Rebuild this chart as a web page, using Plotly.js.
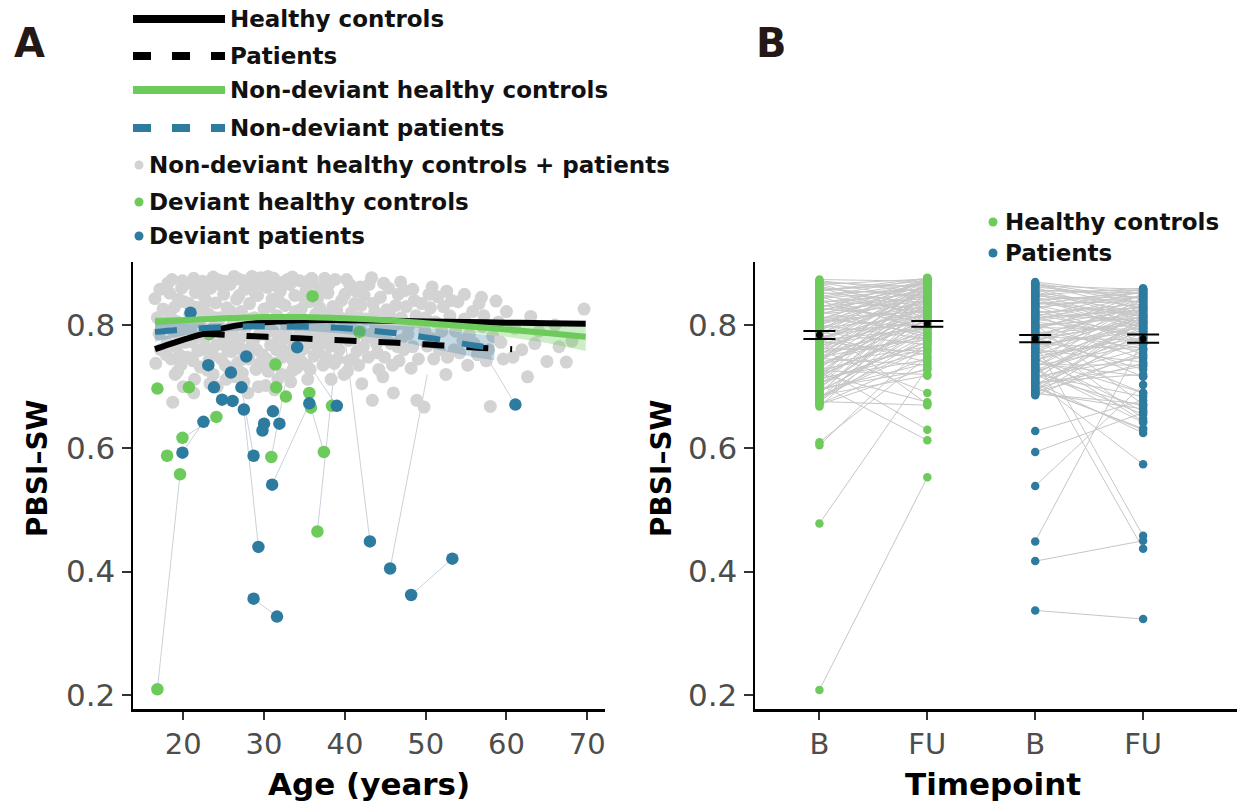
<!DOCTYPE html>
<html>
<head>
<meta charset="utf-8">
<script src="https://cdn.plot.ly/plotly-3.0.1.min.js"></script>
<style>html,body{margin:0;padding:0;background:#fff;}#chart{width:1239px;height:803px;}</style>
</head>
<body>
<div id="chart"></div>
<script>
// ---------- Panel A data ----------
const greyAge = [16.5,16.8,17.0,17.2,16.6,17.5,17.8,18.0,18.3,18.7,18.5,18.9,19.2,19.5,19.0,19.8,19.6,20.1,20.3,20.0,
  20.6,20.8,21.0,21.2,21.5,21.7,21.4,22.0,22.2,22.4,22.6,22.8,23.0,23.1,23.4,23.6,23.8,24.0,24.2,24.4,
  24.6,24.8,25.0,25.2,25.4,25.6,25.8,26.0,26.2,26.4,26.6,26.8,27.0,27.2,27.4,27.6,27.8,28.0,28.2,28.4,
  28.6,28.8,29.0,29.2,29.4,29.6,29.8,30.0,30.2,30.4,30.6,30.8,31.0,31.2,31.4,31.6,31.8,32.0,32.2,32.4,
  32.6,32.8,33.0,33.2,33.4,33.6,33.8,34.0,34.2,34.4,34.6,34.8,35.0,35.2,35.4,35.6,35.8,36.0,36.2,36.4,
  36.6,36.8,37.0,37.3,37.6,37.9,38.2,38.5,38.8,39.1,39.4,39.7,40.0,40.3,40.6,40.9,41.2,41.5,41.8,42.1,
  42.4,42.7,43.0,43.4,43.7,44.0,44.4,44.7,45.0,45.4,45.7,46.0,46.3,46.7,47.0,47.4,47.8,48.2,48.6,48.9,
  49.3,49.8,50.2,50.6,51.0,51.5,52.0,52.5,53.0,53.5,54.0,54.6,55.2,55.8,56.4,
  57.0,57.5,58.0,58.7,59.3,60.0,60.8,61.9,62.6,63.0,64.0,65.0,66.0,67.4,68.1,69.6,
  18.1,19.4,20.9,21.9,22.9,23.9,24.9,25.9,26.9,27.9,28.9,29.9,30.9,31.9,32.9,33.9,34.9,35.9,36.9,37.9,
  19.3,21.3,23.3,25.3,27.3,29.3,31.3,33.3,35.3,38.3,40.5,42.0,43.8,45.2,47.2,39.0,41.0,44.2,46.5,50.0];
const greyVal = [.843,.812,.786,.760,.738,.826,.801,.772,.852,.675,.745,.829,.806,.781,.720,.860,.751,.838,.795,.700,
  .868,.817,.773,.742,.853,.829,.712,.805,.760,.871,.846,.782,.727,.818,.860,.753,.797,.836,.700,.873,
  .812,.770,.850,.735,.828,.790,.866,.757,.805,.716,.842,.875,.778,.822,.745,.858,.797,.690,.835,.765,
  .870,.812,.728,.848,.785,.877,.752,.826,.702,.861,.800,.768,.842,.876,.738,.815,.782,.855,.720,.870,
  .832,.795,.758,.866,.812,.742,.848,.730,.780,.872,.826,.805,.762,.856,.712,.838,.789,.868,.750,.818,
  .842,.775,.860,.735,.805,.852,.766,.830,.874,.745,.812,.788,.850,.725,.866,.795,.835,.758,.812,.705,
  .848,.780,.866,.678,.822,.755,.845,.716,.800,.860,.770,.690,.832,.742,.812,.856,.785,.730,.840,.678,
  .805,.667,.766,.828,.745,.846,.790,.720,.815,.760,.838,.775,.735,.822,.752,
  .798,.742,.668,.839,.772,.822,.748,.760,.716,.814,.790,.741,.800,.740,.774,.826,
  .868,.842,.793,.858,.838,.812,.862,.822,.848,.866,.852,.805,.866,.838,.874,.822,.845,.876,.828,.818,
  .725,.690,.705,.712,.722,.700,.695,.708,.735,.712,.775,.832,.800,.825,.802,.766,.745,.728,.765,.812];
const greyAge2 = [17.3,17.9,18.4,18.8,19.1,19.7,20.2,20.5,20.7,21.1,21.6,21.8,22.1,22.3,22.7,23.2,23.5,23.7,24.1,24.3,
  24.7,25.1,25.5,25.7,26.1,26.3,26.7,26.9,27.1,27.5,27.7,28.1,28.3,28.7,29.1,29.5,29.7,30.1,30.3,30.5,
  30.7,31.1,31.5,31.7,32.1,32.3,32.7,33.1,33.5,33.7,34.1,34.3,34.7,35.1,35.5,35.7,36.1,36.3,36.7,37.1,
  37.4,37.7,38.0,38.4,38.7,39.0,39.3,39.6,39.9,40.2,40.5,40.8,41.1,41.4,41.7,42.0,42.3,42.6,42.9,43.2,
  43.5,43.9,44.2,44.6,44.9,45.3,45.6,45.9,46.2,46.6,46.9,47.3,47.6,48.0,48.4,48.8,49.1,49.5,49.9,50.4,
  50.8,51.2,51.7,52.2,52.7,53.2,53.7,54.2,54.8,55.4,56.0,56.6,57.2,57.8,58.3,59.0,59.6,61.0,63.5,66.5,
  17.1,18.6,19.9,21.3,22.1,23.7,25.1,26.3,27.5,28.5,29.5,30.5,31.5,33.5,35.5,37.5,38.0,40.2,41.9,43.3,
  44.8,46.9,48.4,50.8,52.6,54.8,56.9];
const greyVal2 = [.795,.752,.815,.790,.765,.735,.772,.748,.835,.803,.780,.758,.732,.822,.765,.744,.790,.720,.768,.808,
  .745,.782,.760,.728,.790,.773,.738,.800,.762,.708,.783,.745,.810,.775,.760,.738,.800,.785,.745,.725,
  .830,.790,.760,.712,.772,.748,.805,.780,.726,.765,.798,.752,.740,.782,.770,.728,.800,.782,.758,.790,
  .772,.748,.800,.782,.738,.825,.760,.840,.720,.805,.742,.820,.778,.855,.735,.790,.765,.810,.748,.785,
  .835,.770,.810,.785,.748,.790,.815,.735,.800,.850,.775,.760,.830,.800,.765,.815,.745,.835,.790,.850,
  .778,.805,.760,.830,.748,.840,.790,.755,.810,.785,.770,.835,.815,.760,.782,.805,.745,.795,.770,.765,
  .858,.874,.872,.876,.864,.878,.871,.879,.872,.879,.866,.879,.864,.878,.872,.876,.866,.874,.862,.877,
  .868,.870,.858,.862,.855,.850,.845];

const devHcAge = [36.0,16.8,20.7,24.1,19.9,18.0,30.9,37.4,31.4,31.5,32.7,35.6,35.8,38.4,41.8,23.2,19.6,36.6,16.8];
const devHcVal = [0.847,0.697,0.699,0.651,0.617,0.588,0.586,0.594,0.736,0.699,0.684,0.690,0.666,0.669,0.789,0.785,0.558,0.465,0.209];

const devPtAge = [20.9,34.1,23.1,27.8,25.9,23.8,27.2,24.8,26.1,27.5,31.1,22.5,30.0,31.9,29.8,35.6,39.0,61.1,19.9,28.7,31.0,29.3,43.1,45.6,53.3,48.2,28.7,31.6];
const devPtVal = [0.820,0.764,0.735,0.749,0.723,0.699,0.699,0.679,0.677,0.663,0.660,0.643,0.640,0.640,0.629,0.673,0.669,0.671,0.593,0.588,0.541,0.440,0.449,0.405,0.421,0.362,0.356,0.327];

// links between the two timepoints of deviant subjects
const linkAge1 = [16.8,28.7,48.2,45.6,43.1,29.3,31.0,36.6,61.1,19.9,28.7,30.9,37.4,19.9,20.9,34.1];
const linkVal1 = [0.209,0.356,0.362,0.405,0.449,0.440,0.541,0.465,0.671,0.593,0.588,0.586,0.594,0.617,0.820,0.764];
const linkAge2 = [19.6,31.6,53.3,50.2,40.0,27.5,35.6,39.0,57.0,22.5,27.2,33.0,35.8,24.1,22.5,39.0];
const linkVal2 = [0.558,0.327,0.421,0.720,0.780,0.663,0.673,0.766,0.760,0.643,0.699,0.730,0.666,0.651,0.760,0.669];

// fitted curves
const hcCurveAge = [16.5,19,22,25,28,32,36,40,45,50,55,60,65,69.8];
const hcCurveVal = [0.761,0.772,0.784,0.795,0.802,0.806,0.808,0.808,0.807,0.806,0.805,0.804,0.803,0.802];
const ptCurveAge = [22.4,27,32,37,42,47,52,57,60.7];
const ptCurveVal = [0.786,0.783,0.780,0.777,0.774,0.771,0.767,0.763,0.761];
const ndHcAge = [16.5,20,25,30,35,40,45,50,55,60,65,69.8];
const ndHcVal = [0.806,0.808,0.811,0.813,0.813,0.811,0.808,0.803,0.798,0.793,0.787,0.781];
const ndHcLo  = [0.799,0.803,0.807,0.810,0.810,0.807,0.803,0.796,0.789,0.781,0.771,0.758];
const ndHcHi  = [0.813,0.813,0.815,0.816,0.816,0.815,0.813,0.810,0.807,0.805,0.803,0.803];
const ndPtAge = [16.5,20,24,28,32,36,40,44,48,52,56,58.5];
const ndPtVal = [0.789,0.793,0.796,0.798,0.798,0.797,0.795,0.790,0.784,0.776,0.767,0.763];
const ndPtLo  = [0.773,0.783,0.789,0.792,0.792,0.790,0.786,0.779,0.770,0.759,0.748,0.743];
const ndPtHi  = [0.805,0.803,0.803,0.804,0.804,0.804,0.804,0.801,0.798,0.793,0.786,0.783];

// ---------- Panel B data ----------
const tpLabels = ['B','FU','B','FU'];
const hcB  = [0.874,0.869,0.866,0.861,0.858,0.853,0.851,0.847,0.844,0.840,0.837,0.833,0.830,0.826,0.823,0.819,0.816,0.812,0.809,0.805,
  0.802,0.798,0.795,0.791,0.788,0.784,0.781,0.777,0.774,0.770,0.767,0.763,0.760,0.756,0.753,0.749,0.746,0.742,0.739,0.735,
  0.732,0.728,0.725,0.721,0.718,0.714,0.711,0.707,0.704,0.700,0.697,0.693,0.690,0.686,0.683,0.679,0.676,0.672,0.668,0.610,
  0.605,0.478,0.208,0.872,0.856,0.828,0.799,0.776,0.744,0.716,
  0.870,0.863,0.859,0.855,0.849,0.843,0.839,0.835,0.831,0.827,0.822,0.818,0.814,0.810,0.806,0.803,0.800,0.796,0.793,0.789,
  0.786,0.783,0.779,0.776,0.772,0.769,0.765,0.762,0.758,0.755,0.751,0.748,0.744,0.740,0.737,0.733,0.730,0.726,0.723,0.719,
  0.716,0.712,0.709,0.705,0.702,0.698,0.695,0.691,0.688,0.684,0.681,0.677,0.674,0.671,0.867,0.846,0.824,0.807,0.785,0.757];
const hcFU = [0.871,0.842,0.875,0.812,0.866,0.836,0.858,0.789,0.869,0.826,0.851,0.804,0.862,0.838,0.781,0.847,0.873,0.822,0.796,0.855,
  0.831,0.672,0.815,0.864,0.768,0.843,0.808,0.829,0.752,0.859,0.798,0.820,0.690,0.776,0.845,0.806,0.735,0.868,0.788,0.817,
  0.630,0.760,0.834,0.675,0.795,0.744,0.852,0.772,0.613,0.812,0.727,0.784,0.836,0.718,0.762,0.801,0.670,0.748,0.823,0.748,
  0.772,0.730,0.553,0.853,0.876,0.874,0.877,0.856,0.866,0.865,
  0.861,0.828,0.847,0.872,0.818,0.859,0.794,0.867,0.843,0.811,0.870,0.834,0.786,0.862,0.824,0.849,0.778,0.838,0.871,0.803,
  0.852,0.740,0.826,0.794,0.866,0.812,0.841,0.758,0.829,0.797,0.862,0.781,0.820,0.850,0.765,0.809,0.839,0.720,0.786,0.861,
  0.800,0.756,0.828,0.774,0.845,0.812,0.738,0.792,0.855,0.768,0.826,0.782,0.842,0.730,0.818,0.876,0.857,0.872,0.876,0.870];
const ptB  = [0.868,0.864,0.861,0.857,0.853,0.849,0.846,0.842,0.838,0.835,0.831,0.827,0.823,0.820,0.816,0.812,0.809,0.805,0.801,0.797,
  0.794,0.790,0.786,0.782,0.779,0.775,0.771,0.768,0.764,0.760,0.756,0.753,0.749,0.745,0.742,0.738,0.734,0.731,0.727,0.723,
  0.720,0.716,0.712,0.709,0.705,0.701,0.698,0.694,0.690,0.686,0.628,0.594,0.539,0.449,0.417,0.337,0.866,0.851,0.833,0.817,
  0.799,0.781,0.762,0.744,0.726,0.707,0.692,0.688,
  0.870,0.866,0.862,0.858,0.855,0.851,0.847,0.843,0.840,0.836,0.832,0.829,0.825,0.821,0.818,0.814,0.810,0.807,0.803,0.800,
  0.796,0.792,0.788,0.785,0.781,0.777,0.773,0.770,0.766,0.762,0.758,0.755,0.751,0.747,0.743,0.740,0.736,0.732,0.729,0.725,
  0.721,0.718,0.714,0.711,0.707,0.703,0.700,0.696,0.692,0.689];
const ptFU = [0.842,0.858,0.812,0.851,0.829,0.860,0.795,0.846,0.818,0.838,0.773,0.855,0.806,0.834,0.752,0.824,0.848,0.785,0.671,0.817,
  0.842,0.762,0.801,0.833,0.728,0.810,0.458,0.790,0.852,0.740,0.822,0.644,0.780,0.437,0.805,0.717,0.768,0.842,0.655,0.797,
  0.684,0.748,0.826,0.574,0.733,0.779,0.632,0.815,0.664,0.757,0.678,0.658,0.703,0.776,0.450,0.323,0.836,0.800,0.858,0.784,
  0.826,0.648,0.815,0.690,0.803,0.625,0.738,0.790,
  0.850,0.826,0.844,0.808,0.856,0.820,0.838,0.790,0.852,0.815,0.798,0.846,0.770,0.828,0.806,0.855,0.782,0.830,0.745,0.812,
  0.793,0.850,0.716,0.823,0.775,0.806,0.840,0.760,0.797,0.690,0.832,0.770,0.812,0.660,0.788,0.846,0.735,0.817,0.642,0.780,
  0.802,0.668,0.762,0.836,0.720,0.795,0.630,0.752,0.810,0.672];
const groupMean = [0.784,0.802,0.778,0.778];
const groupSE   = [0.0065,0.0047,0.006,0.0067];

// ---------- styling ----------
const W = 1239, H = 803;
const px = v => v / W, py = v => 1 - v / H;
const GREEN = '#6ccb5a', BLUE = '#2e7ba0', GREY = '#d3d3d3', BLACK = '#000000';
const FONT = 'DejaVu Sans';

function segs(x1, y1, x2, y2) {
  const xs = [], ys = [];
  for (let i = 0; i < x1.length; i++) { xs.push(x1[i], x2[i], null); ys.push(y1[i], y2[i], null); }
  return {xs, ys};
}
const devLinks = segs(linkAge1, linkVal1, linkAge2, linkVal2);
const hcPairs = segs(hcB.map(() => 1), hcB, hcFU.map(() => 2), hcFU);
const ptPairs = segs(ptB.map(() => 3), ptB, ptFU.map(() => 4), ptFU);
const band = (a, lo, hi) => ({x: a.concat(a.slice().reverse()), y: hi.concat(lo.slice().reverse())});
const gBand = band(ndHcAge, ndHcLo, ndHcHi);
const bBand = band(ndPtAge, ndPtLo, ndPtHi);

const traces = [
  {x: devLinks.xs, y: devLinks.ys, mode: 'lines', line: {color: 'rgba(165,180,195,0.6)', width: 1}, xaxis: 'x', yaxis: 'y'},
  {x: greyAge.concat(greyAge2), y: greyVal.concat(greyVal2), mode: 'markers', marker: {color: GREY, size: 13}, xaxis: 'x', yaxis: 'y'},
  {x: devHcAge, y: devHcVal, mode: 'markers', marker: {color: GREEN, size: 12.5}, xaxis: 'x', yaxis: 'y'},
  {x: devPtAge, y: devPtVal, mode: 'markers', marker: {color: BLUE, size: 12.5}, xaxis: 'x', yaxis: 'y'},
  {x: gBand.x, y: gBand.y, mode: 'lines', fill: 'toself', fillcolor: 'rgba(108,203,90,0.35)', line: {width: 0}, xaxis: 'x', yaxis: 'y'},
  {x: bBand.x, y: bBand.y, mode: 'lines', fill: 'toself', fillcolor: 'rgba(46,123,160,0.28)', line: {width: 0}, xaxis: 'x', yaxis: 'y'},
  {x: hcCurveAge, y: hcCurveVal, mode: 'lines', line: {color: BLACK, width: 6, shape: 'spline'}, xaxis: 'x', yaxis: 'y'},
  {x: ptCurveAge, y: ptCurveVal, mode: 'lines', line: {color: BLACK, width: 6, dash: '22px,22px', shape: 'spline'}, xaxis: 'x', yaxis: 'y'},
  {x: ndHcAge, y: ndHcVal, mode: 'lines', line: {color: GREEN, width: 6, shape: 'spline'}, xaxis: 'x', yaxis: 'y'},
  {x: ndPtAge, y: ndPtVal, mode: 'lines', line: {color: BLUE, width: 6, dash: '22px,22px', shape: 'spline'}, xaxis: 'x', yaxis: 'y'},
  // panel B
  {x: hcPairs.xs, y: hcPairs.ys, mode: 'lines', line: {color: '#c6c6c6', width: 1}, xaxis: 'x2', yaxis: 'y2'},
  {x: ptPairs.xs, y: ptPairs.ys, mode: 'lines', line: {color: '#c6c6c6', width: 1}, xaxis: 'x2', yaxis: 'y2'},
  {x: hcB.map(() => 1).concat(hcFU.map(() => 2)), y: hcB.concat(hcFU), mode: 'markers', marker: {color: GREEN, size: 8.5}, xaxis: 'x2', yaxis: 'y2'},
  {x: ptB.map(() => 3).concat(ptFU.map(() => 4)), y: ptB.concat(ptFU), mode: 'markers', marker: {color: BLUE, size: 8.5}, xaxis: 'x2', yaxis: 'y2'},
  {x: [1,2,3,4], y: groupMean, mode: 'markers', marker: {color: BLACK, size: 7},
   error_y: {type: 'data', array: groupSE, visible: true, color: BLACK, thickness: 2, width: 16}, xaxis: 'x2', yaxis: 'y2'}
];

const axY = {range: [0.177, 0.9024], tickvals: [0.2,0.4,0.6,0.8], ticktext: ['0.2','0.4','0.6','0.8'],
  showline: true, linecolor: BLACK, linewidth: 2.5, ticks: 'outside', ticklen: 9, tickwidth: 2, tickcolor: '#333',
  showgrid: false, zeroline: false, tickfont: {family: FONT, size: 31, color: '#4d4d4d'}};
const axXcommon = {showline: true, linecolor: BLACK, linewidth: 2.5, ticks: 'outside', ticklen: 8, tickwidth: 2, tickcolor: '#333',
  showgrid: false, zeroline: false, tickfont: {family: FONT, size: 29, color: '#4d4d4d'}};

const ann = (text, x, y, size, extra) => Object.assign({text, x: px(x), y: py(y), xref: 'paper', yref: 'paper',
  xanchor: 'center', yanchor: 'middle', showarrow: false, font: {family: FONT, size, color: '#111'}}, extra || {});

const annotations = [
  ann('<b>A</b>', 29, 43, 40, {font: {family: FONT, size: 40, color: '#231815'}}),
  ann('<b>B</b>', 771, 43, 40, {font: {family: FONT, size: 40, color: '#231815'}}),
  ann('<b>Age (years)</b>', 369, 784, 31, {font: {family: FONT, size: 31, color: '#000'}}),
  ann('<b>Timepoint</b>', 993, 784, 31, {font: {family: FONT, size: 31, color: '#000'}}),
  ann('<b>PBSI–SW</b>', 37, 468, 28, {textangle: -90, font: {family: FONT, size: 28, color: '#000'}}),
  ann('<b>PBSI–SW</b>', 661, 468, 28, {textangle: -90, font: {family: FONT, size: 28, color: '#000'}}),
  ann('<b>Healthy controls</b>', 228, 19, 23, {xanchor: 'left'}),
  ann('<b>Patients</b>', 228, 56, 23, {xanchor: 'left'}),
  ann('<b>Non-deviant healthy controls</b>', 228, 90, 23, {xanchor: 'left'}),
  ann('<b>Non-deviant patients</b>', 228, 128, 23, {xanchor: 'left'}),
  ann('<b>Non-deviant healthy controls + patients</b>', 147, 165, 23, {xanchor: 'left'}),
  ann('<b>Deviant healthy controls</b>', 147, 202, 23, {xanchor: 'left'}),
  ann('<b>Deviant patients</b>', 147, 236, 23, {xanchor: 'left'}),
  ann('<b>Healthy controls</b>', 1003, 222, 23, {xanchor: 'left'}),
  ann('<b>Patients</b>', 1003, 253, 23, {xanchor: 'left'})
];

const lineShape = (y, color, dash) => ({type: 'line', xref: 'paper', yref: 'paper', x0: px(133), x1: px(225), y0: py(y), y1: py(y),
  line: {color, width: 8, dash: dash || 'solid'}});
const dotShape = (x, y, color) => ({type: 'circle', xref: 'paper', yref: 'paper', xsizemode: 'pixel', ysizemode: 'pixel',
  xanchor: px(x), yanchor: py(y), x0: -4.5, x1: 4.5, y0: -4.5, y1: 4.5, fillcolor: color, line: {width: 0}});
const shapes = [
  lineShape(19, BLACK), lineShape(56, BLACK, '18px,21px'), lineShape(90, GREEN), lineShape(128, BLUE, '18px,21px'),
  dotShape(139, 165, GREY), dotShape(139, 202, GREEN), dotShape(139, 236, BLUE),
  dotShape(993, 222, GREEN), dotShape(993, 253, BLUE)
];

const layout = {
  width: W, height: H, autosize: false, showlegend: false,
  margin: {l: 0, r: 0, t: 0, b: 0, pad: 0},
  paper_bgcolor: '#fff', plot_bgcolor: '#fff',
  xaxis: Object.assign({}, axXcommon, {domain: [px(133), px(605)], range: [13.78, 72.19], tickvals: [20,30,40,50,60,70], anchor: 'y'}),
  yaxis: Object.assign({}, axY, {domain: [py(709), py(262)], anchor: 'x'}),
  xaxis2: Object.assign({}, axXcommon, {domain: [px(755), px(1237)], range: [0.403, 4.87], tickvals: [1,2,3,4], ticktext: tpLabels, anchor: 'y2'}),
  yaxis2: Object.assign({}, axY, {domain: [py(709), py(262)], anchor: 'x2'}),
  annotations, shapes
};
traces.forEach(t => { t.showlegend = false; t.hoverinfo = 'skip'; });
Plotly.newPlot('chart', traces, layout, {displayModeBar: false, staticPlot: true});
</script>
</body>
</html>
